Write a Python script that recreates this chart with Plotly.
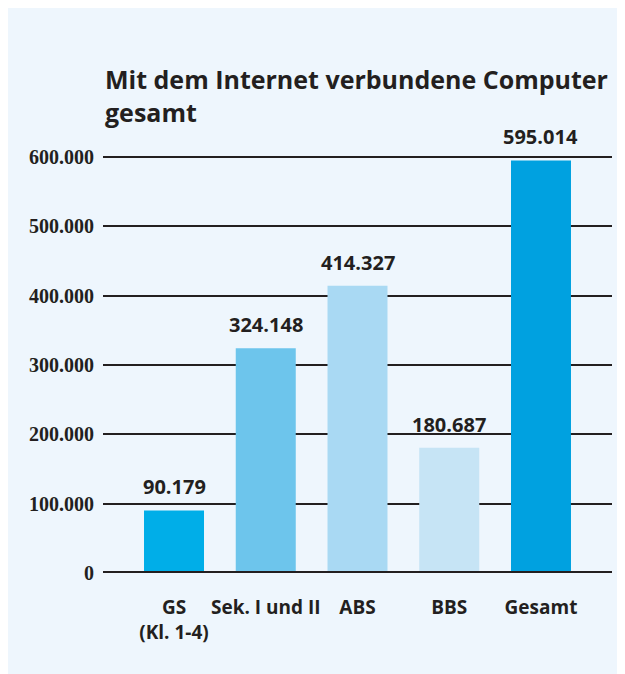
import plotly.graph_objects as go

categories = ["GS<br>(Kl. 1-4)", "Sek. I und II", "ABS", "BBS", "Gesamt"]
values = [90179, 324148, 414327, 180687, 595014]
bar_colors = ["#00aee8", "#6dc5ec", "#a9d9f3", "#c6e4f5", "#00a1e0"]
tick_vals = [0, 100000, 200000, 300000, 400000, 500000, 600000]
tick_text = ["0", "100.000", "200.000", "300.000", "400.000", "500.000", "600.000"]
title_text = "Mit dem Internet verbundene Computer<br>gesamt"

W, H = 625, 674
L, R, T, B = 95, 21, 120, 109
pw, ph = W - L - R, H - T - B
ymax = 600000 * ph / (565 - 149)

def py2y(py):
    return (H - B - py) / ph

dark = "#231f20"
bg = "#eef6fd"

fig = go.Figure()
fig.add_trace(go.Bar(
    x=list(range(len(categories))),
    y=values,
    marker=dict(color=bar_colors, line=dict(width=0)),
    width=0.654,
    hoverinfo="skip",
))

value_labels = [
    dict(x=i, y=v, xref="x", yref="y", text=f"{v:,}".replace(",", "."),
         showarrow=False, xanchor="center", yanchor="bottom", yshift=8,
         font=dict(family="Open Sans", size=20, color=dark, weight="bold"))
    for i, v in enumerate(values)
]

fig.update_layout(
    width=W, height=H,
    margin=dict(l=L, r=R, t=T, b=B),
    paper_bgcolor=bg,
    plot_bgcolor=bg,
    showlegend=False,
    xaxis=dict(
        tickmode="array",
        tickvals=list(range(len(categories))),
        ticktext=categories,
        range=[-0.774, 4.774],
        showgrid=False, zeroline=False, showline=False,
        ticks="outside", ticklen=0,
        ticklabelstandoff=17,
        tickfont=dict(family="Open Sans", size=19, color=dark, weight="bold"),
        fixedrange=True,
    ),
    yaxis=dict(
        tickmode="array",
        tickvals=tick_vals,
        ticktext=tick_text,
        range=[0, ymax],
        showgrid=True, gridcolor=dark, gridwidth=1.5,
        zeroline=False, showline=False,
        ticks="", ticklabelstandoff=8,
        tickfont=dict(family="Liberation Serif", size=20, color=dark, weight="bold"),
        fixedrange=True,
    ),
    shapes=[
        dict(type="line", xref="paper", yref="y",
             x0=0, x1=1, y0=0, y1=0,
             line=dict(color=dark, width=4), layer="above"),
    ],
    annotations=value_labels + [
        dict(text=title_text, xref="paper", yref="paper",
             x=0, y=py2y(52), xanchor="left", yanchor="top",
             align="left", showarrow=False,
             font=dict(family="Open Sans", size=25, color=dark, weight="bold")),
    ],
)

fig.write_html("out.html")
